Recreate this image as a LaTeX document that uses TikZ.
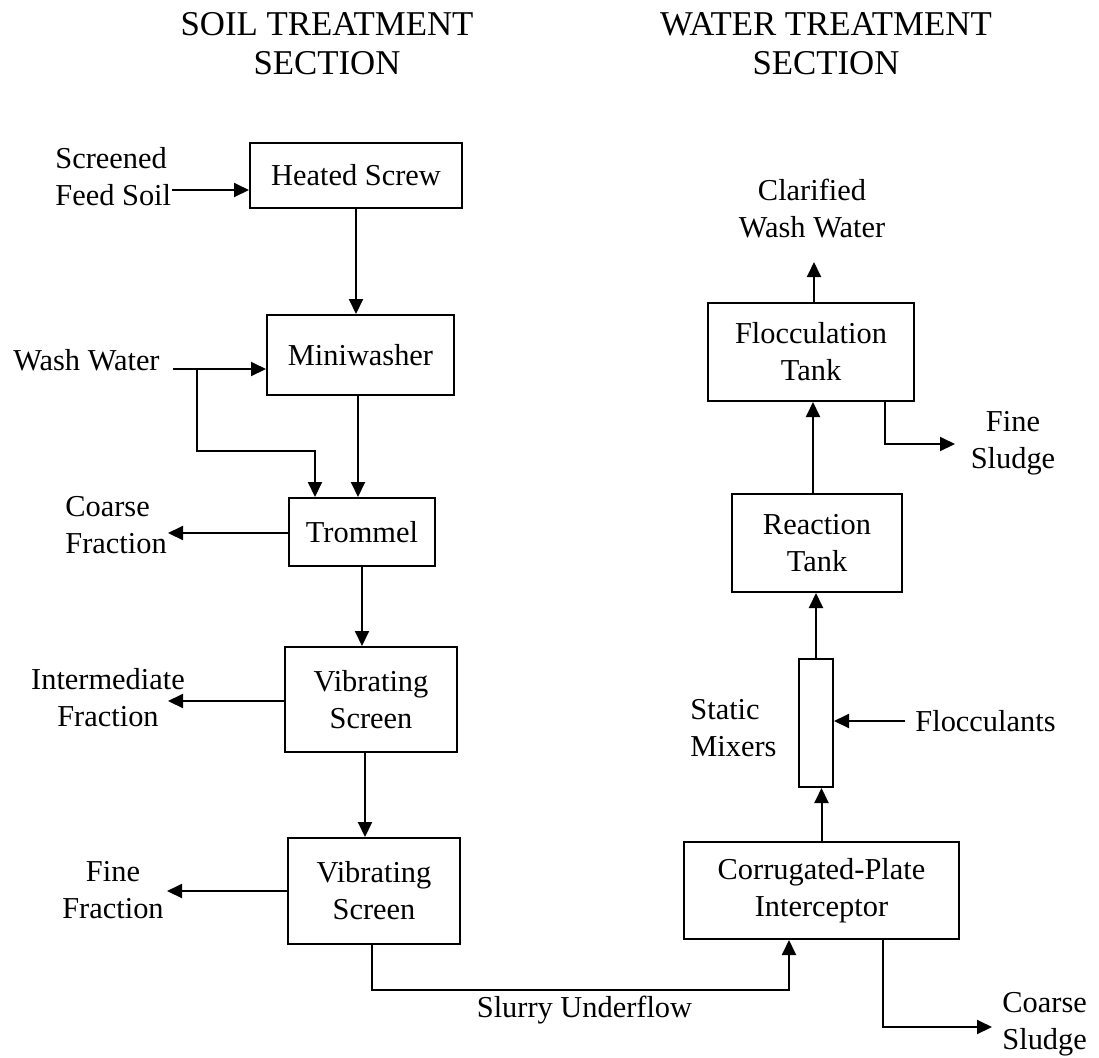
\documentclass[tikz,border=0pt]{standalone}
\usepackage{fontspec}
\setmainfont{Liberation Serif}
\usetikzlibrary{arrows.meta}
\begin{document}
\begin{tikzpicture}[x=0.5pt,y=-0.5pt,
  box/.style={draw, line width=1pt, inner sep=0pt, align=center, font=\fontsize{15.2}{18.5}\selectfont},
  lbl/.style={inner sep=0pt, font=\fontsize{15.2}{18.5}\selectfont},
  ttl/.style={inner sep=0pt, align=center, font=\fontsize{17.4}{19.5}\selectfont},
  flow/.style={line width=1pt, -{Triangle[length=7.5pt,width=7pt]}},
  pipe/.style={line width=1pt}]
\useasboundingbox (0,0) rectangle (1099,1057);

% titles
\node[ttl] (t1) at (327,44) {SOIL TREATMENT\\SECTION};
\node[ttl] (t2) at (826,44) {WATER TREATMENT\\SECTION};

% soil boxes
\node[box, minimum width=106pt, minimum height=32.5pt] (heat) at (356,175.5) {Heated Screw};
\node[box, minimum width=93.5pt, minimum height=40pt] (mini) at (360.5,355) {Miniwasher};
\node[box, minimum width=73pt, minimum height=34pt] (trom) at (362,532) {Trommel};
\node[box, minimum width=86pt, minimum height=52.5pt] (vs1) at (371,699.5) {Vibrating\\Screen};
\node[box, minimum width=86pt, minimum height=53pt] (vs2) at (374,891) {Vibrating\\Screen};

% water boxes
\node[box, minimum width=103pt, minimum height=49pt] (floc) at (811,352) {Flocculation\\Tank};
\node[box, minimum width=85pt, minimum height=49pt] (react) at (817,543) {Reaction\\Tank};
\node[box, minimum width=17pt, minimum height=64pt] (mix) at (816,723) {};
\node[box, minimum width=137.5pt, minimum height=48.5pt] (cpi) at (821.5,890.5) {Corrugated-Plate\\Interceptor};

% labels
\node[lbl, align=left, anchor=west] (feed) at (55,176.5) {Screened\\Feed Soil};
\node[lbl, anchor=west] (wash) at (13,360) {Wash Water};
\node[lbl, align=left, anchor=west] (cfrac) at (65,525) {Coarse\\Fraction};
\node[lbl, align=center] (ifrac) at (108,698) {Intermediate\\Fraction};
\node[lbl, align=center] (ffrac) at (113,890.5) {Fine\\Fraction};
\node[lbl, align=center] (clar) at (812,208.5) {Clarified\\Wash Water};
\node[lbl, align=center] (fsl) at (1013,443.5) {Fine\\Sludge};
\node[lbl, align=left, anchor=west] (stat) at (690,728.5) {Static\\Mixers};
\node[lbl, anchor=west] (flocl) at (915,721) {Flocculants};
\node[lbl] (slur) at (584.5,1010) {Slurry Underflow};
\node[lbl, align=left, anchor=west] (csl) at (1002,1024.5) {Coarse\\Sludge};

% helper coordinates
\coordinate (feedend) at (172,190);
\coordinate (wwend) at (173,369);
\coordinate (wwbr) at (197,369);
\coordinate (brk) at (315,451);
\coordinate (ctip) at (168,533);
\coordinate (itip) at (168,701);
\coordinate (ftip) at (167,891);
\coordinate (slturn) at (789,990);
\coordinate (cltip) at (814,262);
\coordinate (fsturn) at (885,444);
\coordinate (fstip) at (955,444);
\coordinate (csturn) at (883,1027);
\coordinate (cstip) at (992,1027);
\coordinate (flocin) at (905,721);

% soil connectors
\draw[flow] (feedend) -- (feedend -| heat.west);
\draw[flow] (heat.south) -- (heat.south |- mini.north);
\draw[flow] (wwend) -- (wwend -| mini.west);
\draw[flow] (wwbr) |- (brk) -- (brk |- trom.north);
\draw[flow] ([xshift=-1.25pt]mini.south) -- ([xshift=-1.25pt]mini.south |- trom.north);
\draw[flow] (ctip -| trom.west) -- (ctip);
\draw[flow] (trom.south) -- (trom.south |- vs1.north);
\draw[flow] (itip -| vs1.west) -- (itip);
\draw[flow] ([xshift=-3pt]vs1.south) -- ([xshift=-3pt]vs1.south |- vs2.north);
\draw[flow] (ftip -| vs2.west) -- (ftip);
\draw[flow] ([xshift=-1pt]vs2.south) |- (slturn) -- (slturn |- cpi.south);

% water connectors
\draw[flow] (cpi.north) -- (cpi.north |- mix.south);
\draw[flow] (flocin) -- (flocin -| mix.east);
\draw[flow] (mix.north) -- (mix.north |- react.south);
\draw[flow] ([xshift=-2pt]react.north) -- ([xshift=-2pt]react.north |- floc.south);
\draw[flow] (cltip |- floc.north) -- (cltip);
\draw[flow] (fsturn |- floc.south) -- (fsturn) -- (fstip);
\draw[flow] (csturn |- cpi.south) -- (csturn) -- (cstip);
\end{tikzpicture}
\end{document}
